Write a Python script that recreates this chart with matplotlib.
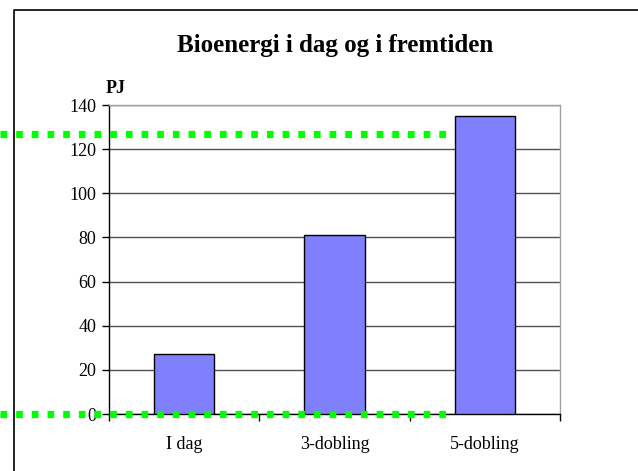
import matplotlib
matplotlib.use("Agg")
import matplotlib.pyplot as plt
from matplotlib.lines import Line2D
from matplotlib.transforms import blended_transform_factory

categories = ["I dag", "3-dobling", "5-dobling"]
values = [27, 81, 135]
y_ticks = [0, 20, 40, 60, 80, 100, 120, 140]
green_levels = [0, 127]  # dotted marker lines

plt.rcParams['font.family'] = ['Liberation Serif', 'DejaVu Serif']

fig = plt.figure(figsize=(6.38, 4.71), dpi=100)
ax = fig.add_axes([0.1708, 0.121, 0.7069, 0.656])

x = list(range(len(categories)))
ax.bar(x, values, width=0.4, color='#8080FF', edgecolor='black',
       linewidth=1.0, zorder=3)

ax.set_xlim(-0.5, len(categories) - 0.5)
ax.set_ylim(0, 140)
ax.set_yticks(y_ticks)
ax.set_yticklabels([str(v) for v in y_ticks], fontsize=13)
ax.set_xticks(x)
ax.set_xticklabels(categories, fontsize=13)
ax.tick_params(axis='x', length=0, pad=16)
# x ticks sit between categories
ax.set_xticks([-0.5, 0.5, 1.5, 2.5], minor=True)
ax.tick_params(axis='x', which='minor', length=5, direction='out', width=1)
ax.tick_params(axis='y', length=5, direction='out', width=1, pad=4)

ax.yaxis.grid(True, color='#505050', linewidth=1.0, zorder=0)
ax.set_axisbelow(True)
for side in ['top', 'right']:
    ax.spines[side].set_color('#a0a0a0')
    ax.spines[side].set_linewidth(1.0)
for side in ['left', 'bottom']:
    ax.spines[side].set_color('black')
    ax.spines[side].set_linewidth(1.0)

ax.text(-0.007, 1.055, "PJ", transform=ax.transAxes, fontsize=13,
        fontweight='bold', ha='left', va='center')
fig.text(0.525, 0.904, "Bioenergi i dag og i fremtiden", fontsize=18,
         fontweight='bold', ha='center', va='center')

# outer frame (left and top edges visible)
fig.add_artist(Line2D([0.0212, 0.0212, 1.0], [0.0, 0.9798, 0.9798],
                      transform=fig.transFigure, color='black', linewidth=1.2))

# green dotted lines
trans = blended_transform_factory(ax.transAxes, ax.transData)
for lvl in green_levels:
    ax.add_line(Line2D([-0.242, 0.762], [lvl, lvl], transform=trans,
                       color='#00FF00', linewidth=5.2, linestyle=(0, (0.92, 1.25)),
                       solid_capstyle='butt', dash_capstyle='butt',
                       clip_on=False, zorder=5))

fig.savefig("out.png", dpi=100)
